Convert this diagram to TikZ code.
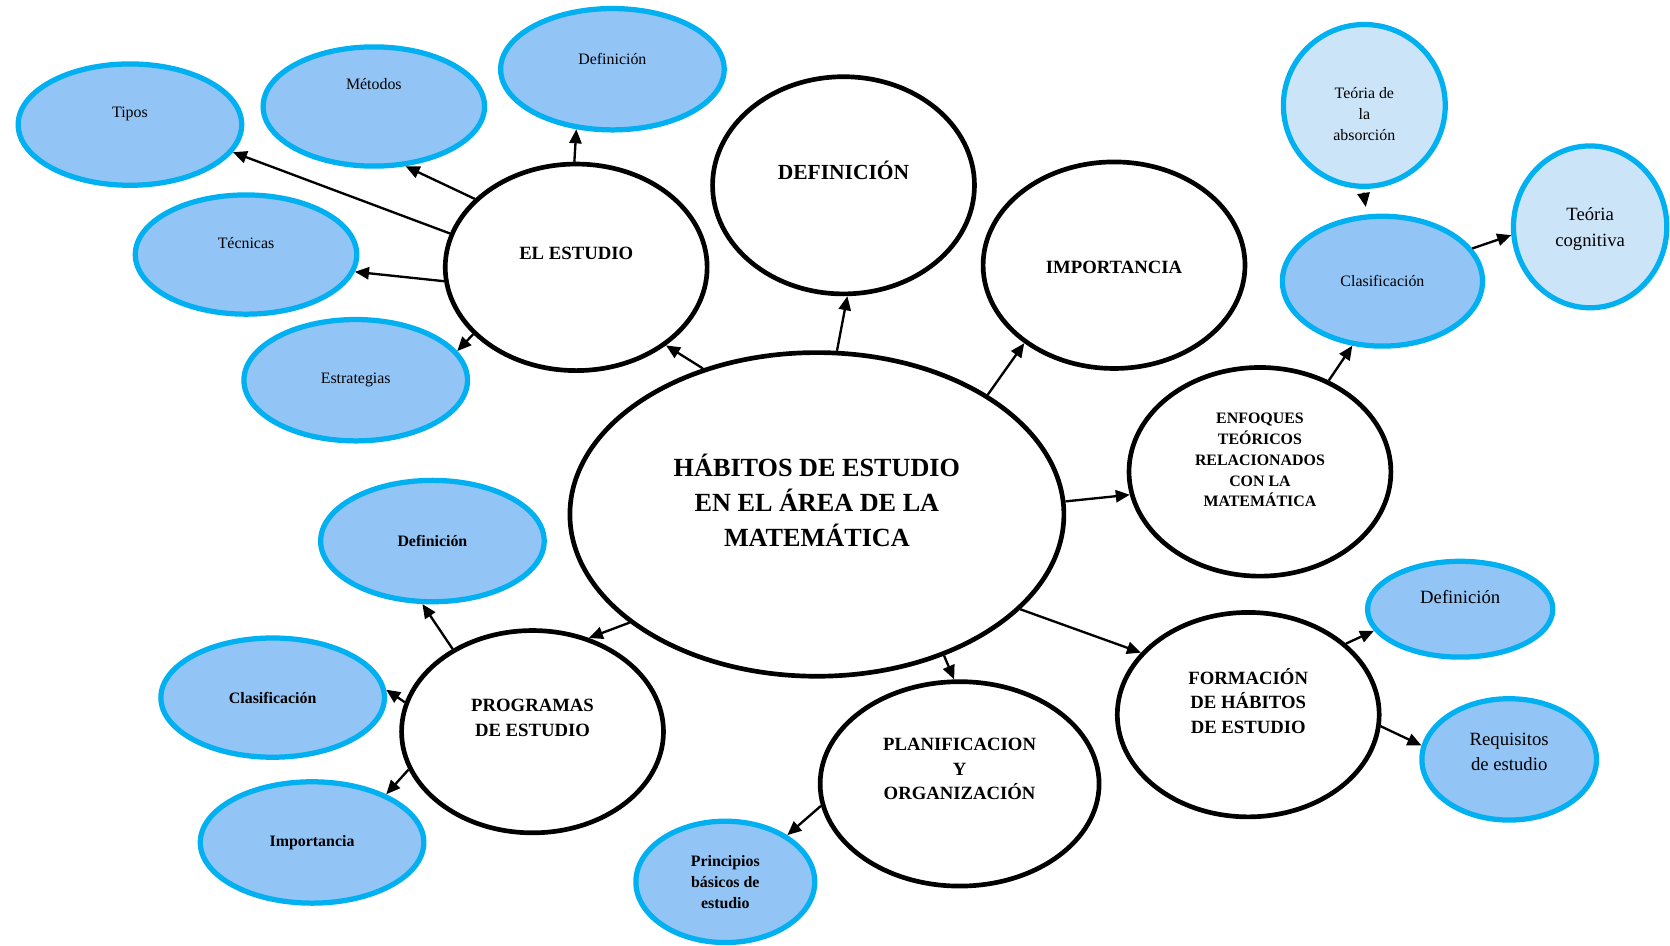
\documentclass[tikz,border=0pt]{standalone}
\usepackage{fontspec}
\setmainfont{Liberation Serif}
\usetikzlibrary{shapes.geometric,arrows.meta}
\definecolor{skyfill}{RGB}{146,196,245}
\definecolor{palefill}{RGB}{204,228,248}
\definecolor{skyline}{RGB}{0,176,240}

\begin{document}
\begin{tikzpicture}[x=0.02cm,y=-0.02cm,
  sz/.style 2 args={minimum width={#1*0.04cm}, minimum height={#2*0.04cm}},
  mainell/.style={ellipse, draw=black, line width=2.5pt, fill=white, inner sep=0pt},
  subell/.style={ellipse, draw=skyline, line width=2.8pt, fill=skyfill, inner sep=0pt},
  paleell/.style={subell, fill=palefill},
  arr/.style={-{Triangle[length=7.5pt,width=6.5pt]}, line width=1.25pt},
  titletxt/.style={align=center, font=\fontsize{14}{18.8}\selectfont\bfseries},
  headtxt/.style={align=center, font=\fontsize{10}{13.1}\selectfont\bfseries},
  deftxt/.style={align=center, font=\fontsize{11.5}{14}\selectfont\bfseries},
  smallbold/.style={align=center, font=\fontsize{8.5}{11.1}\selectfont\bfseries},
  smalltxt/.style={align=center, font=\fontsize{8.5}{11.4}\selectfont},
  midtxt/.style={align=center, font=\fontsize{10}{13.4}\selectfont},
]
\useasboundingbox (0,0) rectangle (1568,888);

% central topic
\node[mainell, sz={232}{152}, label={[titletxt, yshift=0.26cm]center:HÁBITOS DE ESTUDIO\\EN EL ÁREA DE LA\\MATEMÁTICA}] (hab) at (767,483) {};

% main branches
\node[mainell, sz={123}{102}, label={[deftxt, yshift=0.28cm]center:DEFINICIÓN}] (defin) at (792,174) {};
\node[mainell, sz={123}{97}, label={[headtxt, yshift=-0.04cm]center:IMPORTANCIA}] (impor) at (1046,249) {};
\node[mainell, sz={123}{97}, label={[headtxt, yshift=0.26cm]center:EL ESTUDIO}] (estud) at (541,251) {};
\node[mainell, sz={123}{98}, label={[smallbold, yshift=0.22cm]center:ENFOQUES\\TEÓRICOS\\RELACIONADOS\\CON LA\\MATEMÁTICA}] (enfoq) at (1183,443) {};
\node[mainell, sz={123}{96}, label={[headtxt, yshift=0.26cm]center:FORMACIÓN\\DE HÁBITOS\\DE ESTUDIO}] (forma) at (1172,671) {};
\node[mainell, sz={131}{96}, label={[headtxt, yshift=0.28cm]center:PLANIFICACION\\Y\\ORGANIZACIÓN}] (plani) at (901,736) {};
\node[mainell, sz={123}{95}, label={[headtxt, yshift=0.26cm]center:PROGRAMAS\\DE ESTUDIO}] (progr) at (500,687) {};

% sub-topics of EL ESTUDIO
\node[subell, sz={105}{57}, label={[smalltxt, yshift=0.2cm]center:Tipos}] (tipos) at (122,117) {};
\node[subell, sz={104}{56}, label={[smalltxt, yshift=0.42cm]center:Métodos}] (metod) at (351,100) {};
\node[subell, sz={105}{57}, label={[smalltxt, yshift=0.2cm]center:Definición}] (defa) at (575,65) {};
\node[subell, sz={104}{56}, label={[smalltxt, yshift=0.22cm]center:Técnicas}] (tecn) at (231,239) {};
\node[subell, sz={105}{57}, label={[smalltxt]center:Estrategias}] (estr) at (334,357) {};

% sub-topics of PROGRAMAS DE ESTUDIO
\node[subell, sz={105}{57}, label={[smallbold]center:Definición}] (defb) at (406,508) {};
\node[subell, sz={105}{56}, label={[smallbold]center:Clasificación}] (clasb) at (256,655) {};
\node[subell, sz={105}{57}, label={[smallbold]center:Importancia}] (impb) at (293,791) {};

% sub-topic of PLANIFICACION
\node[subell, sz={84}{57}, label={[smallbold]center:Principios\\básicos de\\estudio}] (princ) at (681,828) {};

% sub-topics of FORMACIÓN
\node[subell, sz={87}{45}, label={[midtxt, yshift=0.22cm]center:Definición}] (defc) at (1371,572) {};
\node[subell, sz={82}{57}, label={[midtxt, yshift=0.14cm]center:Requisitos\\de estudio}] (requ) at (1417,713) {};

% theoretical approaches
\node[subell, sz={94}{61}, label={[smalltxt]center:Clasificación}] (clasc) at (1298,264) {};
\node[paleell, sz={76}{76}, label={[smalltxt, yshift=-0.16cm]center:Teória de\\la\\absorción}] (absor) at (1281,99) {};
\node[paleell, sz={72}{76}, label={[midtxt, yshift=-0.04cm]center:Teória\\cognitiva}] (cogn) at (1493,213) {};

% connectors from the central topic
\draw[arr] (hab.128) -- (estud.-41);
\draw[arr] (hab.83) -- (defin.-88);
\draw[arr] (hab.35.5) -- (impor.221.5);
\draw[arr] (hab.3) -- (enfoq.190.4);
\draw[arr] (hab.-25.6) -- (forma.150);
\draw[arr] (hab.-48.3) -- (plani.93);
\draw[arr] (hab.210) -- (progr.59.6);

% connectors of EL ESTUDIO
\draw[arr] (estud.91) -- (defa.239);
\draw[arr] (estud.146.3) -- (metod.-62);
\draw[arr] (estud.165.5) -- (tipos.-15);
\draw[arr] (estud.186) -- (tecn.-9);
\draw[arr] (estud.213.8) -- (estr.16);

% connectors of the theoretical approaches
\draw[arr] (enfoq.53.7) -- (clasc.245);
\draw[arr, shorten <=2pt, shorten >=4pt] (absor.-91) -- (clasc.103);
\draw[arr] (clasc.20) -- (cogn.186.8);

% connectors of FORMACIÓN
\draw[arr] (forma.36) -- (defc.194.4);
\draw[arr] (forma.-5.5) -- (requ.171);

% connector of PLANIFICACION
\draw[arr] (plani.189) -- (princ.37);

% connectors of PROGRAMAS DE ESTUDIO
\draw[arr] (progr.134) -- (defb.261);
\draw[arr] (progr.167.6) -- (clasb.4);
\draw[arr] (progr.197.5) -- (impb.33.5);
\end{tikzpicture}
\end{document}
